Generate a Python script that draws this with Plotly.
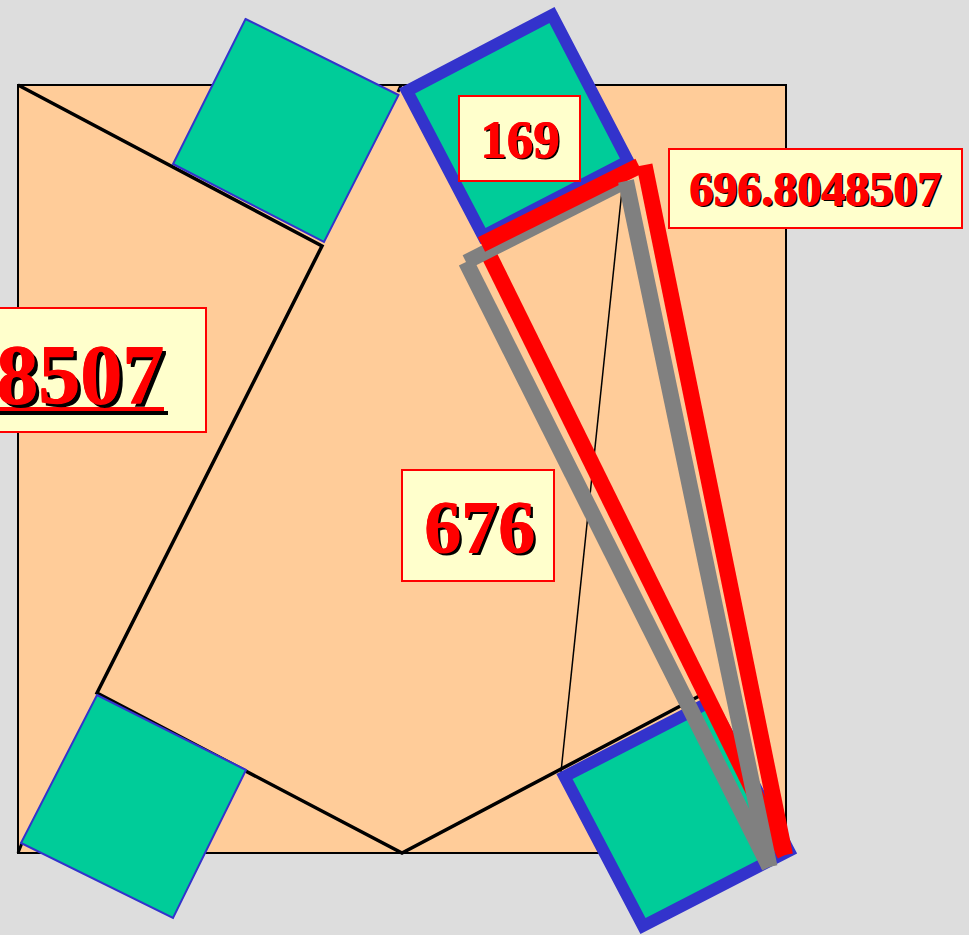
import plotly.graph_objects as go

square_x = [18, 786, 786, 18, 18]
square_y = [85, 85, 853, 853, 85]

kite_x = [18, 322, 97, 402, 705]
kite_y = [85, 246, 693, 853, 693]
tick_a_x = [18, 22]
tick_a_y = [853, 843]
tick_b_x = [398, 401]
tick_b_y = [92, 85]
thin_x = [622, 561]
thin_y = [190, 772]

green_tl_x = [245.5, 398.5, 324, 173, 245.5]
green_tl_y = [19, 95, 242, 164, 19]
green_bl_x = [97, 246, 173, 21, 97]
green_bl_y = [695, 770, 918, 843, 695]
green_tr_x = [552, 628, 483, 407, 552]
green_tr_y = [15, 161, 236, 91, 15]
green_br_x = [564.5, 710.5, 789, 643, 564.5]
green_br_y = [776.5, 701.5, 851, 926, 776.5]

red_long_a = ([488, 785], [253, 855])
red_long_b = ([644.5, 785], [165, 855])
red_short = ([481.5, 639], [244.5, 166])
grey_short = ([466, 626], [262, 181])
grey_long_a = ([466, 769.5], [262, 867])
grey_long_b = ([626, 769.5], [181, 867])

labels = ["169", "696.8048507", "676", "696.8048507"]
box_left = [459, 669, 402, -320]
box_right = [580, 962, 554, 206]
box_top = [96, 149, 470, 308]
box_bottom = [181, 228, 581, 432]
text_right = [561, 942, 535.5, 165]
text_mid = [138.5, 188.5, 526.5, 374.5]
text_size = [53, 48, 74, 84]
text_shadow = [2, 2, 3, 4]

# the rule under the big label and its shadow
rule_x = [-270, 164]
rule_y = [409, 409]
rule_shadow_x = [-270, 168]
rule_shadow_y = [413, 413]

fig = go.Figure()


def add_line(xs, ys, color, width):
    fig.add_trace(go.Scatter(x=xs, y=ys, mode="lines",
                             line=dict(color=color, width=width), hoverinfo="skip"))


def add_square(xs, ys, color, width, fill):
    # fill first, then the outline run one side past the start so that corner closes too
    fig.add_trace(go.Scatter(x=xs, y=ys, mode="none", fill="toself", fillcolor=fill,
                             hoverinfo="skip"))
    add_line(xs + xs[1:2], ys + ys[1:2], color, width)


add_square(square_x, square_y, "black", 2, "#ffcc99")
add_line(kite_x, kite_y, "black", 3.5)
add_line(tick_a_x, tick_a_y, "black", 3)
add_line(tick_b_x, tick_b_y, "black", 3)
add_line(thin_x, thin_y, "black", 1.5)

add_square(green_tl_x, green_tl_y, "#3333cc", 2, "#00cc99")
add_square(green_bl_x, green_bl_y, "#3333cc", 2, "#00cc99")
add_square(green_tr_x, green_tr_y, "#3333cc", 12, "#00cc99")
add_square(green_br_x, green_br_y, "#3333cc", 12, "#00cc99")

add_line(*red_long_a, "#ff0000", 16)
add_line(*red_long_b, "#ff0000", 16)
add_line(*grey_short, "#808080", 15)
add_line(*red_short, "#ff0000", 16)
add_line(*grey_long_a, "#808080", 16)
add_line(*grey_long_b, "#808080", 16)

for i, label in enumerate(labels):
    l, r, t, b = box_left[i], box_right[i], box_top[i], box_bottom[i]
    add_square([l, r, r, l, l], [t, t, b, b, t], "#ff0000", 2, "#ffffcc")
    s = text_shadow[i]
    fig.add_annotation(
        x=text_right[i], y=text_mid[i], xanchor="right", yanchor="middle",
        showarrow=False, text=label, borderpad=0,
        font=dict(family="Liberation Serif", size=text_size[i], color="#ff0000",
                  weight="bold",
                  shadow=f"0.7px 0 0 #f00, 0 0.7px 0 #f00, {s}px {s}px 0 #000"),
    )

add_line(rule_shadow_x, rule_shadow_y, "black", 4)
add_line(rule_x, rule_y, "#ff0000", 4)

fig.update_xaxes(visible=False, range=[0, 969], fixedrange=True)
fig.update_yaxes(visible=False, range=[935, 0], fixedrange=True)
fig.update_layout(width=969, height=935, margin=dict(l=0, r=0, t=0, b=0),
                  showlegend=False, paper_bgcolor="#dddddd", plot_bgcolor="#dddddd")

fig.write_html("out.html", config={"displayModeBar": False},
               post_script="document.body.style.margin='0';document.body.style.overflow='hidden';")
